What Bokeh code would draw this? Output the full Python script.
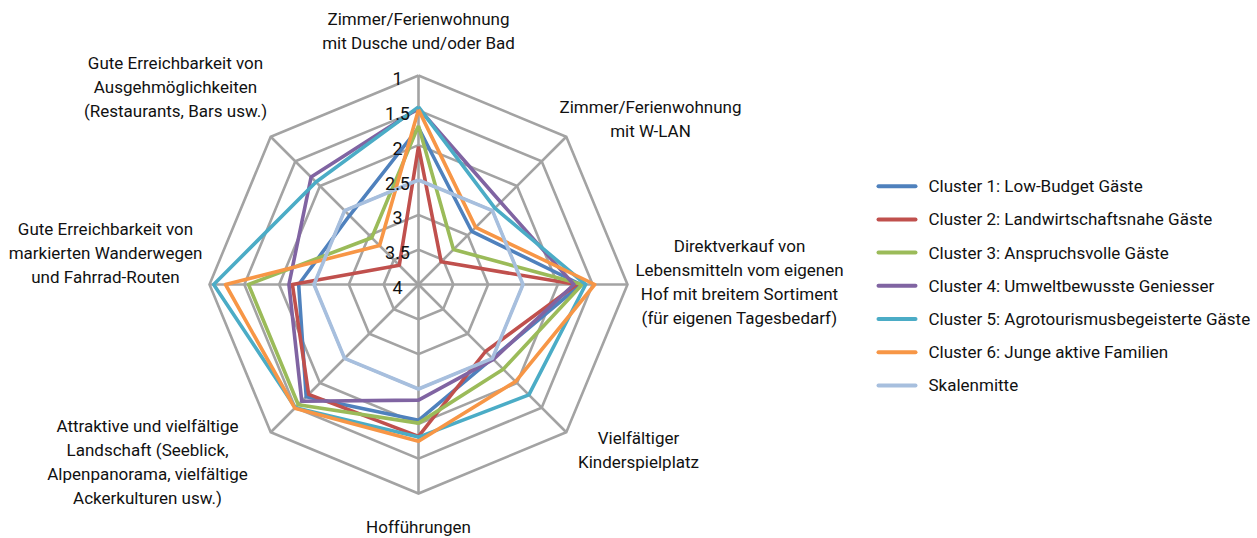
import math
from bokeh.plotting import figure
from bokeh.models import Range1d
from bokeh.core.properties import value
from bokeh.embed import file_html
from bokeh.resources import INLINE

# ---------------- data ----------------
categories = [
    "Zimmer/Ferienwohnung\nmit Dusche und/oder Bad",
    "Zimmer/Ferienwohnung\nmit W-LAN",
    "Direktverkauf von\nLebensmitteln vom eigenen\nHof mit breitem Sortiment\n(für eigenen Tagesbedarf)",
    "Vielfältiger\nKinderspielplatz",
    "Hofführungen",
    "Attraktive und vielfältige\nLandschaft (Seeblick,\nAlpenpanorama, vielfältige\nAckerkulturen usw.)",
    "Gute Erreichbarkeit von\nmarkierten Wanderwegen\nund Fahrrad-Routen",
    "Gute Erreichbarkeit von\nAusgehmöglichkeiten\n(Restaurants, Bars usw.)",
]
scale_ticks = [1, 1.5, 2, 2.5, 3, 3.5, 4]
tick_labels = ["1", "1.5", "2", "2.5", "3", "3.5", "4"]

series_names = [
    "Cluster 1: Low-Budget Gäste",
    "Cluster 2: Landwirtschaftsnahe Gäste",
    "Cluster 3: Anspruchsvolle Gäste",
    "Cluster 4: Umweltbewusste Geniesser",
    "Cluster 5: Agrotourismusbegeisterte Gäste",
    "Cluster 6: Junge aktive Familien",
    "Skalenmitte",
]
cluster_1 = [1.75, 2.92, 1.67, 2.50, 2.05, 1.72, 2.28, 2.60]
cluster_2 = [2.02, 3.54, 1.73, 2.64, 1.82, 1.77, 2.19, 3.61]
cluster_3 = [1.72, 3.29, 1.65, 2.28, 2.01, 1.56, 1.56, 3.05]
cluster_4 = [1.47, 2.33, 1.77, 2.48, 2.34, 1.63, 2.14, 1.82]
cluster_5 = [1.45, 2.45, 1.60, 1.76, 1.81, 1.50, 1.06, 1.92]
cluster_6 = [1.49, 2.84, 1.47, 2.03, 1.75, 1.49, 1.23, 3.21]
skalenmitte = [2.5, 2.5, 2.5, 2.5, 2.5, 2.5, 2.5, 2.5]
series_values = [cluster_1, cluster_2, cluster_3, cluster_4, cluster_5, cluster_6, skalenmitte]
colors = ["#4F81BD", "#C0504D", "#9BBB59", "#8064A2", "#4BACC6", "#F79646", "#A7BFDE"]

# ---------------- layout ----------------
W, H = 1257, 538
CX, CY = 418, 284          # centre of the radar, in figure pixels
R_PX = 209                 # radius of outer ring (value 1) in pixels
VMAX, VMIN = 4, 1
K = R_PX / (VMAX - VMIN)   # pixels per scale unit
FONT = value("Roboto")
FS = "17px"
TXT = "#111111"
GRID = "#A3A3A3"

def px_x(s):
    return (s - CX) / K

def px_y(s):
    return (CY - s) / K

p = figure(width=W, height=H,
           x_range=Range1d(px_x(0), px_x(W)),
           y_range=Range1d(px_y(H), px_y(0)),
           output_backend="svg", toolbar_location=None, min_border=0,
           x_axis_location=None, y_axis_location=None)
p.grid.visible = False
p.outline_line_color = None
p.background_fill_color = "white"
p.border_fill_color = "white"

n = len(categories)
angles = [2 * math.pi * i / n for i in range(n)]

def polar(v, a):
    r = VMAX - v
    return r * math.sin(a), r * math.cos(a)

# grid rings
for t in scale_ticks[:-1]:
    pts = [polar(t, a) for a in angles] + [polar(t, angles[0])]
    p.line([q[0] for q in pts], [q[1] for q in pts], line_color=GRID, line_width=2.6,
           line_join="miter")
# spokes
outer = [polar(scale_ticks[0], a) for a in angles]
p.segment(x0=[0] * n, y0=[0] * n, x1=[q[0] for q in outer], y1=[q[1] for q in outer],
          line_color=GRID, line_width=2.6)

# series
for vals, col in zip(series_values, colors):
    pts = [polar(v, a) for v, a in zip(vals, angles)]
    pts.append(pts[0])
    p.line([q[0] for q in pts], [q[1] for q in pts], line_color=col, line_width=3.6,
           line_join="round")

# tick labels along the top spoke (drawn above the series)
p.text(x=[px_x(CX - 21)] * len(scale_ticks),
       y=[VMAX - t - 3 / K for t in scale_ticks],
       text=tick_labels, text_font=FONT, text_font_size="18px",
       text_align="center", text_baseline="middle", text_color=TXT)

# category labels (block centres in pixels)
label_centres = [(418, 30), (650, 118), (739, 281), (638, 449),
                 (418, 526), (147, 461), (105, 252), (175, 86)]
LINE_H = 24
lx, ly, lt = [], [], []
for cat, (sx, sy) in zip(categories, label_centres):
    lines = cat.split("\n")
    m = len(lines)
    for i, line in enumerate(lines):
        lx.append(px_x(sx))
        ly.append(px_y(sy + (i - (m - 1) / 2) * LINE_H))
        lt.append(line)
p.text(x=lx, y=ly, text=lt, text_font=FONT, text_font_size=FS,
       text_align="center", text_baseline="middle", text_color=TXT)

# legend
LEG_X0, LEG_X1, LEG_TX, LEG_Y0, LEG_DY = 878, 915, 928, 185.7, 33.2
ys = [LEG_Y0 + i * LEG_DY for i in range(len(series_names))]
p.segment(x0=[px_x(LEG_X0)] * len(ys), y0=[px_y(y) for y in ys],
          x1=[px_x(LEG_X1)] * len(ys), y1=[px_y(y) for y in ys],
          line_color=colors, line_width=4, line_cap="round")
p.text(x=[px_x(LEG_TX)] * len(ys), y=[px_y(y) for y in ys], text=series_names,
       text_font=FONT, text_font_size=FS, text_align="left", text_baseline="middle",
       text_color=TXT)

open("out.html", "w").write(file_html(p, INLINE))
